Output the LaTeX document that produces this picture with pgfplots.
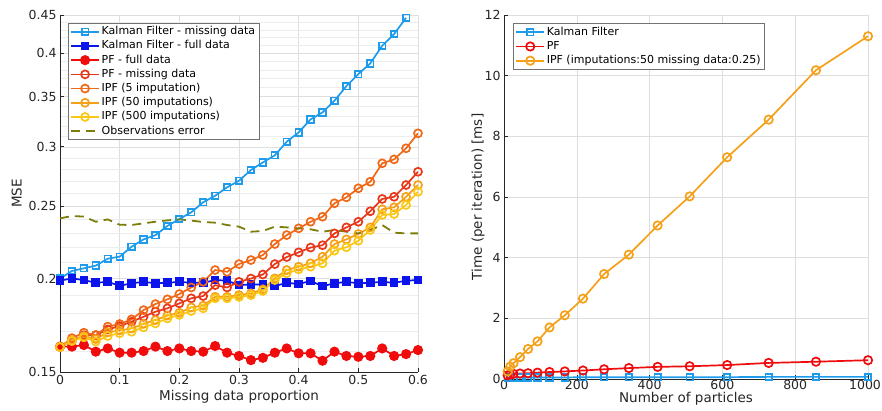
\documentclass[border=0pt]{standalone}
\usepackage{fontspec}
\setmainfont{DejaVu Sans}
\usepackage{pgfplots}
\usepackage{pgfplotstable}
\pgfplotsset{compat=1.18}

\definecolor{kmiss}{RGB}{30,155,235}
\definecolor{kfull}{RGB}{10,20,235}
\definecolor{pffull}{RGB}{240,12,12}
\definecolor{pfmiss}{RGB}{232,55,25}
\definecolor{ipfa}{RGB}{240,105,25}
\definecolor{ipfb}{RGB}{245,160,25}
\definecolor{ipfc}{RGB}{250,200,20}
\definecolor{obs}{RGB}{125,125,10}
\definecolor{axgray}{RGB}{38,38,38}

\pgfplotstableread{
x kmiss kfull pffull pfmiss ipfa ipfb ipfc obs
0.00 0.2000 0.1987 0.1622 0.1620 0.1620 0.1620 0.1620 0.2407
0.02 0.2047 0.2001 0.1622 0.1650 0.1665 0.1655 0.1650 0.2424
0.04 0.2064 0.1991 0.1630 0.1680 0.1693 0.1675 0.1669 0.2420
0.06 0.2081 0.1974 0.1597 0.1680 0.1681 0.1660 0.1647 0.2382
0.08 0.2126 0.1980 0.1613 0.1710 0.1725 0.1695 0.1676 0.2399
0.10 0.2139 0.1956 0.1592 0.1728 0.1739 0.1705 0.1690 0.2360
0.12 0.2206 0.1971 0.1592 0.1751 0.1764 0.1715 0.1698 0.2358
0.14 0.2256 0.1980 0.1600 0.1778 0.1815 0.1740 0.1721 0.2370
0.16 0.2286 0.1971 0.1622 0.1806 0.1849 0.1760 0.1742 0.2382
0.18 0.2351 0.1974 0.1600 0.1825 0.1876 0.1785 0.1769 0.2392
0.20 0.2402 0.1980 0.1613 0.1853 0.1907 0.1800 0.1788 0.2399
0.22 0.2452 0.1974 0.1600 0.1882 0.1946 0.1830 0.1810 0.2390
0.24 0.2529 0.1974 0.1597 0.1895 0.1980 0.1840 0.1825 0.2380
0.26 0.2580 0.1991 0.1625 0.1960 0.2053 0.1891 0.1882 0.2375
0.28 0.2648 0.1987 0.1592 0.1946 0.2042 0.1891 0.1882 0.2358
0.30 0.2702 0.1960 0.1576 0.1980 0.2091 0.1901 0.1890 0.2346
0.32 0.2793 0.1964 0.1556 0.2000 0.2117 0.1911 0.1900 0.2310
0.34 0.2859 0.1964 0.1567 0.2025 0.2150 0.1935 0.1925 0.2315
0.36 0.2922 0.1954 0.1592 0.2091 0.2224 0.2001 0.1991 0.2346
0.38 0.3047 0.1974 0.1613 0.2137 0.2286 0.2053 0.2032 0.2341
0.40 0.3136 0.1967 0.1589 0.2168 0.2334 0.2074 0.2057 0.2334
0.42 0.3264 0.1985 0.1589 0.2200 0.2382 0.2096 0.2074 0.2327
0.44 0.3335 0.1954 0.1553 0.2216 0.2419 0.2139 0.2096 0.2310
0.46 0.3457 0.1971 0.1597 0.2298 0.2521 0.2224 0.2179 0.2322
0.48 0.3616 0.1980 0.1576 0.2341 0.2568 0.2256 0.2202 0.2310
0.50 0.3752 0.1971 0.1572 0.2382 0.2640 0.2294 0.2247 0.2298
0.52 0.3878 0.1974 0.1576 0.2460 0.2694 0.2341 0.2322 0.2322
0.54 0.4094 0.1980 0.1613 0.2555 0.2851 0.2475 0.2432 0.2358
0.56 0.4244 0.1974 0.1576 0.2572 0.2886 0.2490 0.2439 0.2303
0.58 0.4462 0.1987 0.1585 0.2667 0.2986 0.2572 0.2508 0.2298
0.60 nan    0.1991 0.1605 0.2778 0.3127 0.2667 0.2612 0.2298
}\leftdata

\pgfplotstableread{
N kf pf ipf
10 0.05 0.12 0.25
17 0.05 0.15 0.41
26 0.05 0.17 0.52
44 0.05 0.18 0.72
66 0.05 0.19 0.99
92 0.05 0.21 1.24
125 0.05 0.23 1.70
167 0.05 0.25 2.10
217 0.06 0.28 2.65
275 0.06 0.32 3.46
343 0.06 0.36 4.10
422 0.06 0.40 5.06
510 0.06 0.42 6.02
613 0.06 0.46 7.31
727 0.07 0.53 8.55
857 0.07 0.57 10.18
1000 0.07 0.62 11.30
}\rightdata

\pgfplotsset{
  mystyle/.style={
    scale only axis,
    axis x line*=bottom, axis y line*=left,
    axis line style={color=axgray, line width=0.6pt, -},
    tick style={color=axgray, line width=0.6pt},
    tick align=inside,
    major tick length=4pt, minor tick length=0pt,
    xmajorgrids, ymajorgrids,
    major grid style={color=black!13, line width=0.5pt},
    ticklabel style={font=\fontsize{12.5}{14}\selectfont, color=axgray},
    label style={font=\fontsize{13.5}{15}\selectfont, color=axgray},
    /pgf/number format/assume math mode=true,
    /pgf/number format/1000 sep={},
    legend cell align=left,
    legend image code/.code={\draw[mark repeat=2,mark phase=2,##1] plot coordinates {(0pt,0pt) (14pt,0pt) (28pt,0pt)};},
    legend style={draw=black!55, fill=white, line width=0.6pt,
      font=\fontsize{11}{13}\selectfont, text=black,
      nodes={inner sep=1.7pt, text height=8.3pt, text depth=2.5pt},
      row sep=0pt, inner xsep=2pt, inner ysep=1.5pt},
  }
}

\begin{document}
\begin{tikzpicture}
\useasboundingbox (0,0) rectangle (882pt,410pt);
\begin{axis}[mystyle,
  at={(60pt,38pt)}, anchor=south west,
  width=358pt, height=357pt,
  xmin=0, xmax=0.6, ymin=0.15, ymax=0.45,
  ymode=log,
  xtick={0,0.1,0.2,0.3,0.4,0.5,0.6},
  xticklabels={0,0.1,0.2,0.3,0.4,0.5,0.6},
  ytick={0.15,0.2,0.25,0.3,0.35,0.4,0.45},
  yticklabels={0.15,0.2,0.25,0.3,0.35,0.4,0.45},
  minor ytick={0.16,0.17,0.18,0.19,0.21,0.22,0.23,0.24,0.26,0.27,0.28,0.29,0.31,0.32,0.33,0.34,0.36,0.37,0.38,0.39,0.41,0.42,0.43,0.44},
  yminorgrids,
  minor grid style={color=black!7, line width=0.5pt},
  xlabel={Missing data proportion}, ylabel={MSE},
  xlabel style={yshift=2pt},
  legend style={at={(axis description cs:0.022,0.978)}, anchor=north west},
]
\addplot[color=kmiss, line width=1.7pt, mark=square, mark size=3.3pt, mark options={solid}] table[x=x,y=kmiss]{\leftdata};
\addlegendentry{Kalman Filter - missing data}
\addplot[color=kfull, line width=1.7pt, mark=square*, mark size=3.5pt, mark options={solid}] table[x=x,y=kfull]{\leftdata};
\addlegendentry{Kalman Filter - full data}
\addplot[color=pffull, line width=1.7pt, mark=*, mark size=4.2pt, mark options={solid}] table[x=x,y=pffull]{\leftdata};
\addlegendentry{PF - full data}
\addplot[color=pfmiss, line width=1.7pt, mark=o, mark size=4pt, mark options={solid}] table[x=x,y=pfmiss]{\leftdata};
\addlegendentry{PF - missing data}
\addplot[color=ipfa, line width=1.7pt, mark=o, mark size=4pt, mark options={solid}] table[x=x,y=ipfa]{\leftdata};
\addlegendentry{IPF (5 imputation)}
\addplot[color=ipfb, line width=1.7pt, mark=o, mark size=4pt, mark options={solid}] table[x=x,y=ipfb]{\leftdata};
\addlegendentry{IPF (50 imputations)}
\addplot[color=ipfc, line width=1.7pt, mark=o, mark size=4pt, mark options={solid}] table[x=x,y=ipfc]{\leftdata};
\addlegendentry{IPF (500 imputations)}
\addplot[color=obs, line width=1.8pt, dash pattern=on 9pt off 6pt, no marks] table[x=x,y=obs]{\leftdata};
\addlegendentry{Observations error}
\end{axis}

\begin{axis}[mystyle,
  at={(504pt,31pt)}, anchor=south west,
  width=364pt, height=364pt,
  xmin=0, xmax=1000, ymin=0, ymax=12,
  xtick={0,200,400,600,800,1000},
  xticklabels={0,200,400,600,800,{\kern-6pt 1000}},
  ytick={0,2,4,6,8,10,12},
  xticklabel style={yshift=2.5pt},
  xlabel={Number of particles}, ylabel={Time (per iteration) [ms]},
  xlabel style={yshift=4pt},
  ylabel style={yshift=-7pt},
  legend style={at={(axis description cs:0.025,0.977)}, anchor=north west},
]
\addplot[color=kmiss, line width=1.7pt, mark=square, mark size=3.2pt, mark options={solid}] table[x=N,y=kf]{\rightdata};
\addlegendentry{Kalman Filter}
\addplot[color=pffull, line width=1.7pt, mark=o, mark size=4.2pt, mark options={solid}] table[x=N,y=pf]{\rightdata};
\addlegendentry{PF}
\addplot[color=ipfb, line width=1.7pt, mark=o, mark size=4.2pt, mark options={solid}] table[x=N,y=ipf]{\rightdata};
\addlegendentry{IPF (imputations:50 missing data:0.25)}
\end{axis}
\end{tikzpicture}
\end{document}
